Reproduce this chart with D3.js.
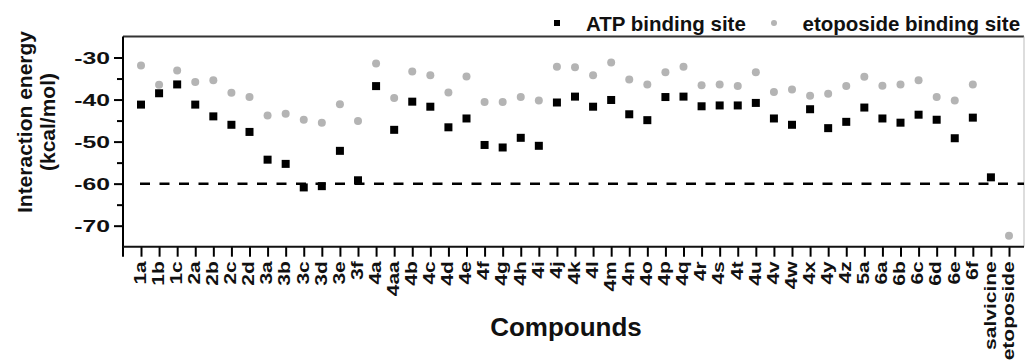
<!DOCTYPE html>
<html>
<head>
<meta charset="utf-8">
<script src="https://cdn.jsdelivr.net/npm/d3@7"></script>
<style>
    body { margin: 0; background: white; }
    svg { display: block; font-family: Arial, "Liberation Sans", sans-serif; font-weight: bold; }
</style>
</head>
<body>
<svg id="svg" width="1026" height="364"></svg>
<script>
var compounds = ["1a","1b","1c","2a","2b","2c","2d","3a","3b","3c","3d","3e","3f",
    "4a","4aa","4b","4c","4d","4e","4f","4g","4h","4i","4j","4k",
    "4l","4m","4n","4o","4p","4q","4r","4s","4t","4u","4v","4w",
    "4x","4y","4z","5a","6a","6b","6c","6d","6e","6f","salvicine","etoposide"];

var atpSite = [-41.2,-38.5,-36.4,-41.2,-44.0,-46.0,-47.7,-54.3,-55.3,-60.9,-60.6,-52.2,-59.2,
    -36.8,-47.2,-40.5,-41.7,-46.6,-44.5,-50.8,-51.4,-49.1,-51.0,-40.7,-39.3,
    -41.7,-40.1,-43.5,-44.9,-39.4,-39.3,-41.6,-41.4,-41.4,-40.8,-44.5,-46.0,
    -42.3,-46.8,-45.3,-41.9,-44.5,-45.5,-43.6,-44.8,-49.2,-44.3,-58.5,null];

var etoSite = [-31.9,-36.5,-33.1,-35.8,-35.4,-38.4,-39.4,-43.8,-43.4,-44.8,-45.5,-41.1,-45.1,
    -31.4,-39.6,-33.3,-34.2,-38.3,-34.5,-40.6,-40.6,-39.4,-40.2,-32.2,-32.3,
    -34.2,-31.2,-35.2,-36.4,-33.5,-32.2,-36.6,-36.4,-36.8,-33.5,-38.2,-37.6,
    -39.1,-38.6,-36.8,-34.6,-36.7,-36.4,-35.4,-39.4,-40.2,-36.4,null,-72.4];

var yTicks = [-30,-40,-50,-60,-70];
var yMinorTicks = [-35,-45,-55,-65];
var threshold = -60;

var plotLeft = 123;
var plotRight = 1024;
var plotTop = 36.5;
var plotBottom = 246.7;

var svg = d3.select('svg');

var x = d3.scalePoint()
    .domain(compounds)
    .range([141, 1009]);

var y = d3.scaleLinear()
    .domain([-75, -25])
    .range([plotBottom, plotTop]);

// frame
svg.append('line')
    .attr('x1', plotLeft).attr('x2', plotRight)
    .attr('y1', plotTop).attr('y2', plotTop)
    .attr('stroke', '#333')
    .attr('stroke-width', 2);

svg.append('line')
    .attr('x1', plotRight).attr('x2', plotRight)
    .attr('y1', plotTop).attr('y2', plotBottom)
    .attr('stroke', '#bbb')
    .attr('stroke-width', 1);

// dashed -60 line
svg.append('line')
    .attr('x1', 140).attr('x2', plotRight)
    .attr('y1', y(threshold)).attr('y2', y(threshold))
    .attr('stroke', '#000')
    .attr('stroke-width', 2.5)
    .attr('stroke-dasharray', '10,9.5');

// y axis
var yAxis = svg.append('g')
    .attr('transform', 'translate(' + plotLeft + ',0)')
    .call(d3.axisLeft(y).tickValues(yTicks).tickSize(9).tickSizeOuter(0));

yAxis.select('.domain').remove();
yAxis.selectAll('.tick line').attr('stroke', '#000').attr('stroke-width', 2);
yAxis.selectAll('.tick text')
    .attr('x', null)
    .attr('dy', '0.36em')
    .attr('transform', 'translate(-13,0) scale(1.5,1)')
    .attr('text-anchor', 'end')
    .attr('font-size', 16.5)
    .attr('font-family', 'Arial, "Liberation Sans", sans-serif')
    .attr('font-weight', 'bold')
    .attr('fill', '#111')
    .text(function (d) { return '-' + Math.abs(d); });

var yMinor = svg.append('g')
    .attr('transform', 'translate(' + plotLeft + ',0)')
    .call(d3.axisLeft(y).tickValues(yMinorTicks).tickSize(6).tickFormat(''));
yMinor.select('.domain').remove();
yMinor.selectAll('.tick line').attr('stroke', '#000').attr('stroke-width', 2);

svg.append('line')
    .attr('x1', plotLeft).attr('x2', plotLeft)
    .attr('y1', plotTop).attr('y2', plotBottom + 10)
    .attr('stroke', '#000')
    .attr('stroke-width', 2);

// x axis
var xAxis = svg.append('g')
    .attr('transform', 'translate(0,' + plotBottom + ')')
    .call(d3.axisBottom(x).tickSize(10).tickSizeOuter(0));

xAxis.select('.domain').remove();
xAxis.selectAll('.tick line').attr('stroke', '#000').attr('stroke-width', 2);
xAxis.selectAll('.tick text')
    .attr('y', null)
    .attr('dy', null)
    .attr('transform', 'translate(4.3,14.5) rotate(-90) scale(1,0.78)')
    .attr('text-anchor', 'end')
    .attr('font-size', 21)
    .attr('font-family', 'Arial, "Liberation Sans", sans-serif')
    .attr('font-weight', 'bold')
    .attr('fill', '#111');

svg.append('line')
    .attr('x1', plotLeft).attr('x2', plotRight)
    .attr('y1', plotBottom).attr('y2', plotBottom)
    .attr('stroke', '#111')
    .attr('stroke-width', 2);

// points
svg.append('g')
    .selectAll('circle')
    .data(compounds.map(function (c, i) { return {name: c, value: etoSite[i]}; })
        .filter(function (d) { return d.value !== null; }))
    .enter()
    .append('circle')
    .attr('cx', function (d) { return x(d.name); })
    .attr('cy', function (d) { return y(d.value); })
    .attr('r', 4)
    .attr('fill', '#b4b4b4');

svg.append('g')
    .selectAll('rect')
    .data(compounds.map(function (c, i) { return {name: c, value: atpSite[i]}; })
        .filter(function (d) { return d.value !== null; }))
    .enter()
    .append('rect')
    .attr('x', function (d) { return x(d.name) - 4; })
    .attr('y', function (d) { return y(d.value) - 4; })
    .attr('width', 8)
    .attr('height', 8)
    .attr('fill', '#000');

// legend
svg.append('rect')
    .attr('x', 554).attr('y', 20)
    .attr('width', 6).attr('height', 6)
    .attr('fill', '#000');

svg.append('text')
    .attr('x', 586).attr('y', 30.5)
    .attr('font-size', 20.5)
    .attr('fill', '#111')
    .text('ATP binding site');

svg.append('circle')
    .attr('cx', 774).attr('cy', 23)
    .attr('r', 3)
    .attr('fill', '#b4b4b4');

svg.append('text')
    .attr('x', 802.5).attr('y', 30.5)
    .attr('font-size', 20.5)
    .attr('fill', '#111')
    .text('etoposide binding site');

// axis titles
svg.append('text')
    .attr('transform', 'translate(32,122) rotate(-90)')
    .attr('text-anchor', 'middle')
    .attr('font-size', 21)
    .attr('fill', '#111')
    .text('Interaction energy');

svg.append('text')
    .attr('transform', 'translate(55,122) rotate(-90)')
    .attr('text-anchor', 'middle')
    .attr('font-size', 21)
    .attr('fill', '#111')
    .text('(kcal/mol)');

svg.append('text')
    .attr('x', 566).attr('y', 336)
    .attr('text-anchor', 'middle')
    .attr('font-size', 26)
    .attr('fill', '#111')
    .text('Compounds');
</script>
</body>
</html>
